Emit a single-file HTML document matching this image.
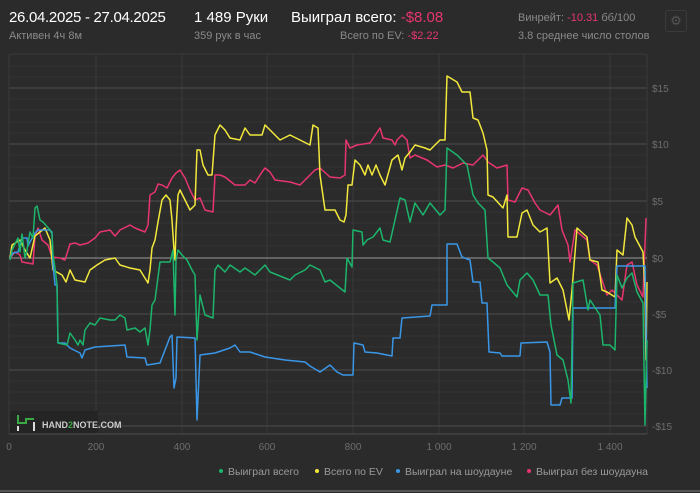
<!DOCTYPE html>
<html><head><meta charset="utf-8"><style>
body{margin:0;background:#2b2b2b;width:700px;height:493px;overflow:hidden;font-family:"Liberation Sans",sans-serif;}
.t{position:absolute;white-space:nowrap}
</style></head><body>
<div class="t" style="left:9px;top:9px;color:#fff;font-size:15px;letter-spacing:-0.3px">26.04.2025 - 27.04.2025</div>
<div class="t" style="left:9px;top:30px;color:#8a8a8a;font-size:11px">Активен 4ч 8м</div>
<div class="t" style="left:194px;top:9px;color:#fff;font-size:15px">1 489 Руки</div>
<div class="t" style="left:194px;top:30px;color:#8a8a8a;font-size:11px">359 рук в час</div>
<div class="t" style="left:291px;top:9px;color:#fff;font-size:15px">Выиграл всего: <span style="color:#e8356e">-$8.08</span></div>
<div class="t" style="left:340px;top:30px;color:#8a8a8a;font-size:11px">Всего по EV: <span style="color:#e8356e">-$2.22</span></div>
<div class="t" style="left:518px;top:12px;color:#8a8a8a;font-size:11px">Винрейт: <span style="color:#e8356e">-10.31</span> бб/100</div>
<div class="t" style="left:518px;top:30px;color:#8a8a8a;font-size:11px">3.8 среднее число столов</div>
<div class="t" style="left:665px;top:10px;width:20px;height:20px;border:1px solid #3a3a3a;border-radius:3px;color:#555;font-size:13px;text-align:center;line-height:20px">⚙</div>
<svg width="700" height="493" style="position:absolute;left:0;top:0">
<g stroke="#333" stroke-width="1">
<line x1="9" x2="647" y1="66" y2="66"/><line x1="9" x2="647" y1="77" y2="77"/><line x1="9" x2="647" y1="99" y2="99"/><line x1="9" x2="647" y1="110" y2="110"/><line x1="9" x2="647" y1="122" y2="122"/><line x1="9" x2="647" y1="133" y2="133"/><line x1="9" x2="647" y1="155" y2="155"/><line x1="9" x2="647" y1="167" y2="167"/><line x1="9" x2="647" y1="178" y2="178"/><line x1="9" x2="647" y1="189" y2="189"/><line x1="9" x2="647" y1="212" y2="212"/><line x1="9" x2="647" y1="223" y2="223"/><line x1="9" x2="647" y1="235" y2="235"/><line x1="9" x2="647" y1="246" y2="246"/><line x1="9" x2="647" y1="269" y2="269"/><line x1="9" x2="647" y1="280" y2="280"/><line x1="9" x2="647" y1="291" y2="291"/><line x1="9" x2="647" y1="302" y2="302"/><line x1="9" x2="647" y1="325" y2="325"/><line x1="9" x2="647" y1="336" y2="336"/><line x1="9" x2="647" y1="347" y2="347"/><line x1="9" x2="647" y1="358" y2="358"/><line x1="9" x2="647" y1="381" y2="381"/><line x1="9" x2="647" y1="392" y2="392"/><line x1="9" x2="647" y1="403" y2="403"/><line x1="9" x2="647" y1="414" y2="414"/>
</g>
<g stroke="#3a3a3a"><line x1="9" x2="9" y1="54" y2="434"/><line x1="96" x2="96" y1="54" y2="434"/><line x1="182" x2="182" y1="54" y2="434"/><line x1="267" x2="267" y1="54" y2="434"/><line x1="353" x2="353" y1="54" y2="434"/><line x1="439" x2="439" y1="54" y2="434"/><line x1="524" x2="524" y1="54" y2="434"/><line x1="610" x2="610" y1="54" y2="434"/><line x1="647" x2="647" y1="54" y2="434"/><line x1="9" x2="647" y1="54" y2="54"/></g>
<g stroke="#4c4c4c"><line x1="9" x2="647" y1="88" y2="88"/><line x1="9" x2="647" y1="144" y2="144"/><line x1="9" x2="647" y1="201" y2="201"/><line x1="9" x2="647" y1="314" y2="314"/><line x1="9" x2="647" y1="370" y2="370"/><line x1="9" x2="647" y1="426" y2="426"/><line x1="9" x2="647" y1="434" y2="434"/></g>
<line x1="9" x2="647" y1="258" y2="258" stroke="#9a9a9a"/>
<g font-size="10" fill="#6e6e6e"><text x="652" y="92">$15</text><text x="652" y="148">$10</text><text x="652" y="205">$5</text><text x="652" y="262">$0</text><text x="652" y="318">-$5</text><text x="652" y="374">-$10</text><text x="652" y="430">-$15</text>
<text x="9" y="450" text-anchor="middle">0</text><text x="96" y="450" text-anchor="middle">200</text><text x="182" y="450" text-anchor="middle">400</text><text x="267" y="450" text-anchor="middle">600</text><text x="353" y="450" text-anchor="middle">800</text><text x="439" y="450" text-anchor="middle">1 000</text><text x="524" y="450" text-anchor="middle">1 200</text><text x="610" y="450" text-anchor="middle">1 400</text></g>
<rect x="10" y="411" width="88" height="22" fill="#242424"/>
<path d="M18 415v8h8v-4h8" stroke="#3aa844" stroke-width="2" fill="none"/><line x1="18" y1="426" x2="18" y2="431" stroke="#ddd" stroke-width="2"/><line x1="34" y1="422" x2="34" y2="431" stroke="#ddd" stroke-width="2"/>
<text x="42" y="428" font-size="9" font-weight="bold" fill="#ccc">HAND<tspan fill="#3aa844">2</tspan>NOTE.COM</text>
<g fill="none" stroke-width="1.5" stroke-linejoin="round">
<polyline stroke="#e8356e" points="10,258 15,252 20,255 22,262 33,264 35,236 38,228 42,240 48,245 52,257 60,258 65,260 70,244 75,243 80,245 88,243 95,238 100,232 110,230 115,236 120,230 130,225 135,228 145,232 148,225 150,195 155,192 158,184 162,185 167,188 172,178 176,173 180,170 185,178 190,190 195,200 200,198 205,210 213,212 215,175 220,175 225,177 235,185 245,185 250,180 255,183 262,172 265,168 270,172 275,180 290,182 300,185 305,180 315,170 320,168 330,177 340,178 345,175 346,140 350,148 357,145 370,143 380,128 383,138 392,140 395,145 397,140 402,135 407,140 410,158 415,155 427,160 437,167 445,165 453,168 463,163 473,165 483,155 488,162 497,168 507,165 508,200 515,202 522,188 528,190 535,203 540,210 550,215 558,205 562,230 568,245 570,262 575,230 587,240 590,260 597,265 602,280 607,295 612,290 622,300 627,265 632,262 637,285 643,297 646,218"/>
<polyline stroke="#f2e83c" points="10,258 12,245 20,240 25,250 30,258 35,236 40,232 45,228 50,240 53,270 62,275 66,282 70,270 75,280 85,282 90,270 97,265 105,260 115,258 120,265 130,268 140,270 148,283 150,270 152,248 155,240 158,222 162,200 166,195 170,200 172,220 174,250 175,260 176,230 178,195 180,190 185,200 190,210 195,205 197,150 200,150 203,165 208,175 212,175 215,135 220,125 225,130 230,138 240,140 245,128 250,135 262,135 265,125 270,130 280,140 290,135 300,140 310,145 313,125 318,128 320,175 325,210 335,210 340,220 344,222 346,215 348,185 352,185 355,160 360,165 365,175 368,165 372,175 376,165 380,175 385,185 392,160 398,155 402,170 405,158 410,152 415,145 425,148 430,150 440,140 445,140 447,76 457,82 462,92 470,92 473,118 478,120 483,133 487,150 488,195 493,197 503,208 507,195 508,237 517,237 522,213 527,210 533,225 540,232 547,228 550,283 557,278 563,290 569,320 572,290 577,228 587,237 590,260 598,262 602,290 607,292 615,297 617,250 623,255 627,218 632,225 635,237 643,252 645,290 646,360 647,282"/>
<polyline stroke="#3a97e8" points="10,258 13,253 18,252 22,238 27,238 28,246 30,242 35,233 38,230 50,230 52,232 53,264 55,285 57,285 58,343 65,343 70,348 80,353 82,358 85,350 95,347 125,345 127,357 145,358 147,365 160,363 170,337 172,335 174,388 176,378 177,337 195,338 197,420 200,355 215,353 230,348 235,345 240,352 250,352 265,357 285,360 305,362 310,366 320,372 330,365 337,372 343,375 353,375 354,343 363,345 365,352 377,353 392,356 393,338 400,338 402,318 430,316 432,305 447,305 447,244 457,244 462,257 470,260 473,282 480,282 482,303 487,303 489,352 500,353 502,356 520,356 521,343 547,342 550,352 551,405 560,405 562,398 572,398 573,308 615,308 617,266 645,266 647,388"/>
<polyline stroke="#1cb56c" points="10,260 12,250 18,238 20,252 22,234 25,258 27,250 30,232 33,238 35,208 37,206 40,220 43,222 50,230 52,234 53,255 55,268 57,285 58,343 67,345 70,333 75,340 78,345 80,340 83,345 85,330 90,323 95,325 100,318 110,320 115,320 120,315 125,318 127,330 135,328 140,332 145,328 148,345 150,330 152,305 155,300 160,262 170,262 173,250 175,315 176,260 178,250 182,255 187,260 192,270 195,275 197,340 200,295 205,315 213,318 215,270 218,265 225,272 230,265 240,272 245,268 255,275 265,265 270,272 290,280 295,275 305,270 310,265 320,270 325,282 330,280 345,292 347,258 352,267 353,230 362,232 363,245 367,240 373,237 380,228 383,240 390,242 400,198 405,200 410,222 415,203 423,215 430,203 440,215 445,210 447,148 457,155 467,165 473,195 478,203 485,210 488,258 493,262 500,268 507,285 517,297 520,280 527,273 533,280 540,295 548,295 551,325 557,355 563,360 568,380 571,403 573,283 583,280 588,310 590,300 600,315 603,345 610,345 615,350 617,275 622,288 627,278 632,273 637,292 643,303 645,425 647,340"/>
</g>
<g font-size="10.5" fill="#9a9a9a">
<circle cx="221" cy="471" r="2" fill="#1cb56c"/><text x="228" y="475">Выиграл всего</text>
<circle cx="317" cy="471" r="2" fill="#f2e83c"/><text x="324" y="475">Всего по EV</text>
<circle cx="398" cy="471" r="2" fill="#3a97e8"/><text x="405" y="475">Выиграл на шоудауне</text>
<circle cx="529" cy="471" r="2" fill="#e8356e"/><text x="536" y="475">Выиграл без шоудауна</text>
</g>
<line x1="0" x2="700" y1="491" y2="491" stroke="#555" stroke-width="2"/>
</svg>
</body></html>
